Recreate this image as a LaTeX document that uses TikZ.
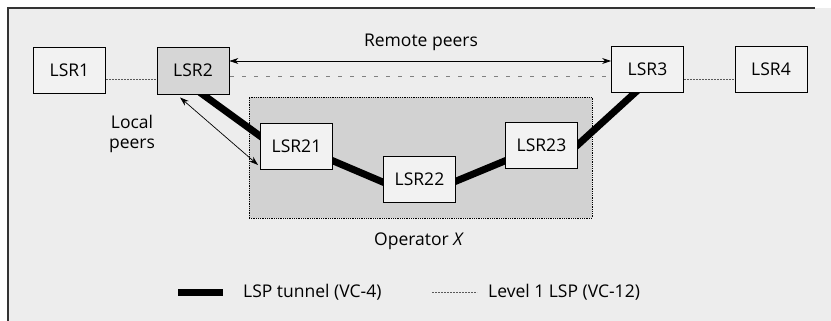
\documentclass[tikz,border=0pt]{standalone}
\usepackage{fontspec}
\setmainfont{Open Sans}
\usetikzlibrary{calc,arrows.meta}
\pgfdeclarelayer{bg}
\pgfdeclarelayer{back}
\pgfsetlayers{back,bg,main}
\begin{document}
\begin{tikzpicture}[x=1pt,y=-1pt, font=\fontsize{17.5}{20}\selectfont,
  lsr/.style={draw=black, line width=0.9pt, fill=gray!10, minimum width=72pt, minimum height=46pt, inner sep=0pt},
  tunnel/.style={line width=7pt, black},
  lvl/.style={gray!70!black, line width=0.8pt, dash pattern=on 2pt off 1pt},
  peer/.style={line width=0.7pt, {Stealth[length=9pt,width=6pt]}-{Stealth[length=9pt,width=6pt]}},
  txt/.style={inner sep=0pt}]
\useasboundingbox (0,0) rectangle (831,321);
\begin{pgfonlayer}{back}
  \fill[gray!14] (8,8) rectangle (831,321);
  \draw[line width=1.5pt, black!80] (8,321) -- (8,8) -- (815,8);
  \node[draw=black, densely dotted, line width=0.8pt, fill=gray!35, minimum width=343pt, minimum height=121pt, inner sep=0pt] (opx) at (420.5,157.5) {};
\end{pgfonlayer}

\node[lsr] (lsr1) at (69.5,70) {LSR1};
\node[lsr, fill=gray!32, minimum height=47pt] (lsr2) at (193,70.5) {LSR2};
\node[lsr] (lsr3) at (647.5,69) {LSR3};
\node[lsr] (lsr4) at (771,69) {LSR4};
\node[lsr] (lsr21) at (296.5,146.5) {LSR21};
\node[lsr] (lsr22) at (419.5,179) {LSR22};
\node[lsr] (lsr23) at (541.5,145.5) {LSR23};

\begin{pgfonlayer}{bg}
  \draw[tunnel] ($(lsr2.south)+(7,-2)$) -- ($(lsr21.west)+(2,-9)$);
  \draw[tunnel] ($(lsr21.east)+(-2,13.5)$) -- ($(lsr22.west)+(2,4)$);
  \draw[tunnel] ($(lsr22.east)+(-2,3)$) -- ($(lsr23.west)+(2,14.5)$);
  \draw[tunnel] ($(lsr23.east)+(-2,1)$) -- ($(lsr3.south)+(-10,-2)$);
\end{pgfonlayer}

\draw[peer] ($(lsr2.south)+(-13,3)$) -- ($(lsr21.west)+(-2,18.5)$);
\draw[peer] ($(lsr2.east)+(0,-9.5)$) -- ($(lsr3.west)+(0,-8)$);
\draw[gray, line width=0.8pt, dash pattern=on 4pt off 8pt] ($(lsr2.east)+(1,5.5)$) -- ($(lsr3.west)+(-1,7)$);
\draw[lvl] ($(lsr1.east)+(0,9)$) -- ($(lsr2.west)+(0,8.5)$);
\draw[lvl] ($(lsr3.east)+(0,10)$) -- ($(lsr4.west)+(0,10)$);

\node[txt] (remote) at (421,42) {Remote peers};
\node[txt, align=center] (local) at (132,134) {Local\\peers};
\node[txt] (oplabel) at (419,241) {Operator \textit{X}};

\coordinate (t1) at (178,292);
\coordinate (t2) at (223,292);
\draw[tunnel] (t1) -- (t2);
\node[txt, anchor=west] (tl) at (243,292) {LSP tunnel (VC-4)};
\coordinate (l1) at (432,292);
\coordinate (l2) at (477,292);
\draw[lvl] (l1) -- (l2);
\node[txt, anchor=west] (ll) at (488,292) {Level 1 LSP (VC-12)};
\end{tikzpicture}
\end{document}
